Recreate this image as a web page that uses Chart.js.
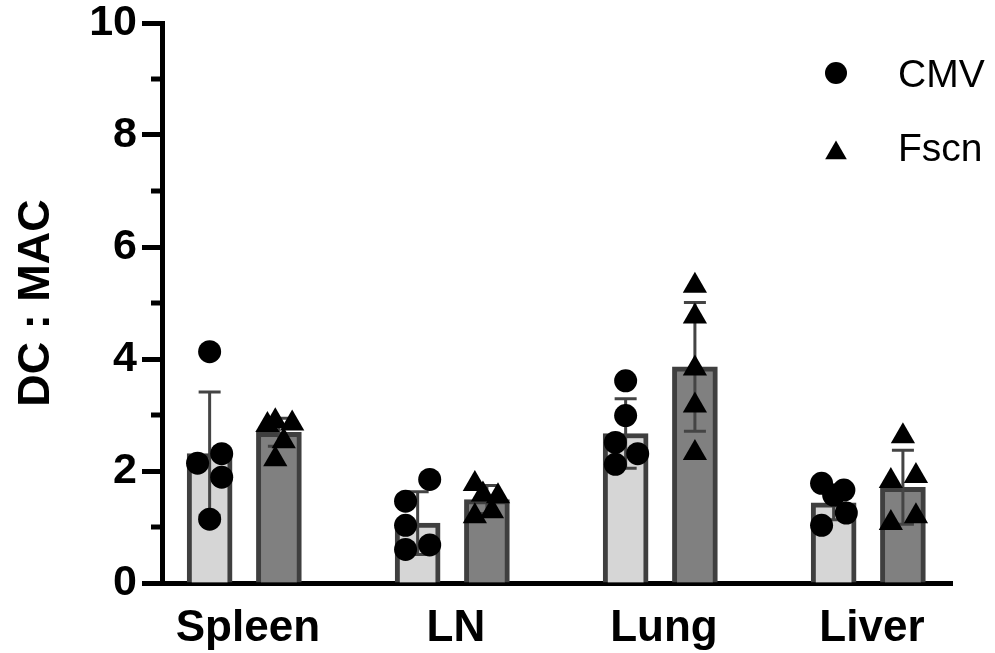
<!DOCTYPE html>
<html>
<head>
<meta charset="utf-8">
<script src="https://cdn.jsdelivr.net/npm/chart.js@4.4.1/dist/chart.umd.min.js"></script>
<style>
  html, body { margin: 0; padding: 0; background: #fff; }
</style>
</head>
<body>
<canvas id="chart" width="995" height="653"></canvas>
<script>
// Data
const categories = ['Spleen', 'LN', 'Lung', 'Liver'];
const seriesNames = ['CMV', 'Fscn'];

const cmvMean = [2.31, 1.07, 2.67, 1.43];
const cmvSd   = [1.10, 0.56, 0.62, 0.30];
const fscnMean = [2.69, 1.49, 3.86, 1.71];
const fscnSd   = [0.25, 0.25, 1.15, 0.66];

const cmvPoints = [
    [4.13, 2.31, 2.14, 1.89, 1.14],
    [1.85, 1.46, 1.03, 0.68, 0.60],
    [3.61, 2.99, 2.51, 2.31, 2.12],
    [1.78, 1.66, 1.57, 1.25, 1.03]
];
const fscnPoints = [
    [2.89, 2.85, 2.82, 2.53, 2.21],
    [1.77, 1.58, 1.55, 1.28, 1.19],
    [5.31, 4.76, 3.83, 3.17, 2.32],
    [2.62, 1.91, 1.82, 1.19, 1.07]
];

const yTicks = [0, 2, 4, 6, 8, 10];
const yMinorTicks = [1, 3, 5, 7, 9];

// Layout: where each group sits inside a category, and the scatter jitter
const CMV_SHIFT = -0.184;
const FSCN_SHIFT = 0.149;
const JITTER = 0.058;
const cmvJitter = [
    [0, 1, -1, 1, 0],
    [1, -1, -1, 1, -1],
    [0, 0, -0.85, 1, -0.85],
    [-1, 0.85, 0, 1.05, -1]
];
const fscnJitter = [
    [-0.3, 1.1, -0.95, 0.4, -0.3],
    [-1, -0.33, 0.92, 0.42, -1],
    [0, 0, 0, 0, 0],
    [0, 1.08, -1, 1.08, -1]
];

const FONT = "'Liberation Sans', Arial, sans-serif";

function barData(means, shift) {
    return means.map((v, i) => ({ x: i + shift, y: v }));
}

function pointData(groups, jitter, shift) {
    const out = [];
    groups.forEach((vals, i) => {
        vals.forEach((v, k) => out.push({ x: i + shift + jitter[i][k] * JITTER, y: v }));
    });
    return out;
}

// error bars: mean +/- SD, drawn right after each bar dataset
const errorBars = {
    id: 'errorBars',
    afterDatasetDraw(chart, args) {
        const ds = chart.data.datasets[args.index];
        if (!ds.sd) return;
        const ctx = chart.ctx;
        const y = chart.scales.y;
        ctx.save();
        ctx.strokeStyle = '#444';
        ctx.lineWidth = 3;
        args.meta.data.forEach((el, i) => {
            const mean = ds.data[i].y;
            const top = y.getPixelForValue(mean + ds.sd[i]);
            const bot = y.getPixelForValue(mean - ds.sd[i]);
            ctx.beginPath();
            ctx.moveTo(el.x, top);
            ctx.lineTo(el.x, bot);
            ctx.moveTo(el.x - 11, top);
            ctx.lineTo(el.x + 11, top);
            ctx.moveTo(el.x - 11, bot);
            ctx.lineTo(el.x + 11, bot);
            ctx.stroke();
        });
        ctx.restore();
    }
};

// short ticks at the odd values of the y axis
const minorTicks = {
    id: 'minorTicks',
    afterDraw(chart) {
        const ctx = chart.ctx;
        const y = chart.scales.y;
        const x0 = chart.chartArea.left;
        ctx.save();
        ctx.strokeStyle = '#000';
        ctx.lineWidth = 5;
        yMinorTicks.forEach(v => {
            const py = y.getPixelForValue(v);
            ctx.beginPath();
            ctx.moveTo(x0 - 11, py);
            ctx.lineTo(x0, py);
            ctx.stroke();
        });
        ctx.restore();
    }
};

// legend in the top right corner
const symbolLegend = {
    id: 'symbolLegend',
    afterDraw(chart) {
        const ctx = chart.ctx;
        const sx = chart.chartArea.right - 116;
        const tx = chart.chartArea.right - 54;
        ctx.save();
        ctx.fillStyle = '#000';
        ctx.font = '39px ' + FONT;
        ctx.textBaseline = 'middle';
        ctx.textAlign = 'left';

        ctx.beginPath();
        ctx.arc(sx, 73, 11, 0, Math.PI * 2);
        ctx.fill();
        ctx.fillText(seriesNames[0], tx, 76);

        const r = 12.5;
        const cy = 153;
        ctx.beginPath();
        ctx.moveTo(sx, cy - r);
        ctx.lineTo(sx + r * 0.866, cy + r / 2);
        ctx.lineTo(sx - r * 0.866, cy + r / 2);
        ctx.closePath();
        ctx.fill();
        ctx.fillText(seriesNames[1], tx, 150);
        ctx.restore();
    }
};

new Chart(document.getElementById('chart'), {
    type: 'bar',
    data: {
        datasets: [{
            label: seriesNames[0],
            data: barData(cmvMean, CMV_SHIFT),
            sd: cmvSd,
            backgroundColor: '#d6d6d6',
            borderColor: '#3f3f3f',
            borderWidth: 5,
            barThickness: 45,
            grouped: false,
            order: 2
        }, {
            label: seriesNames[1],
            data: barData(fscnMean, FSCN_SHIFT),
            sd: fscnSd,
            backgroundColor: '#808080',
            borderColor: '#3f3f3f',
            borderWidth: 5,
            barThickness: 45,
            grouped: false,
            order: 2
        }, {
            type: 'scatter',
            label: seriesNames[0] + ' points',
            data: pointData(cmvPoints, cmvJitter, CMV_SHIFT),
            pointStyle: 'circle',
            pointRadius: 11.5,
            backgroundColor: '#000',
            borderWidth: 0,
            order: 1
        }, {
            type: 'scatter',
            label: seriesNames[1] + ' points',
            data: pointData(fscnPoints, fscnJitter, FSCN_SHIFT),
            pointStyle: 'triangle',
            pointRadius: 14,
            backgroundColor: '#000',
            borderWidth: 0,
            order: 1
        }]
    },
    options: {
        responsive: false,
        animation: false,
        devicePixelRatio: 1,
        layout: { padding: { top: 23, right: 43, left: 0, bottom: 0 } },
        plugins: {
            legend: { display: false },
            tooltip: { enabled: false }
        },
        scales: {
            x: {
                type: 'linear',
                min: -0.413,
                max: 3.385,
                offset: false,
                afterBuildTicks: s => { s.ticks = categories.map((c, i) => ({ value: i })); },
                afterFit: s => { s.height = 70; s.paddingLeft = 0; s.paddingRight = 0; },
                grid: { display: false, drawTicks: false },
                border: { display: true, color: '#000', width: 5 },
                ticks: {
                    callback: v => categories[v],
                    color: '#000',
                    padding: 19,
                    maxRotation: 0,
                    autoSkip: false,
                    font: { family: FONT, size: 44, weight: 'bold' }
                }
            },
            y: {
                min: 0,
                max: 10,
                afterBuildTicks: s => { s.ticks = yTicks.map(v => ({ value: v })); },
                afterFit: s => { s.width = 162; s.paddingTop = 0; s.paddingBottom = 0; },
                grid: {
                    drawOnChartArea: false,
                    tickLength: 20,
                    tickWidth: 5,
                    tickColor: '#000'
                },
                border: { display: true, color: '#000', width: 5 },
                ticks: {
                    color: '#000',
                    padding: 5,
                    font: { family: FONT, size: 43, weight: 'bold' }
                },
                title: {
                    display: true,
                    text: 'DC : MAC',
                    color: '#000',
                    padding: { top: 14, bottom: 0 },
                    font: { family: FONT, size: 45, weight: 'bold', lineHeight: 1 }
                }
            }
        }
    },
    plugins: [errorBars, minorTicks, symbolLegend]
});
</script>
</body>
</html>
